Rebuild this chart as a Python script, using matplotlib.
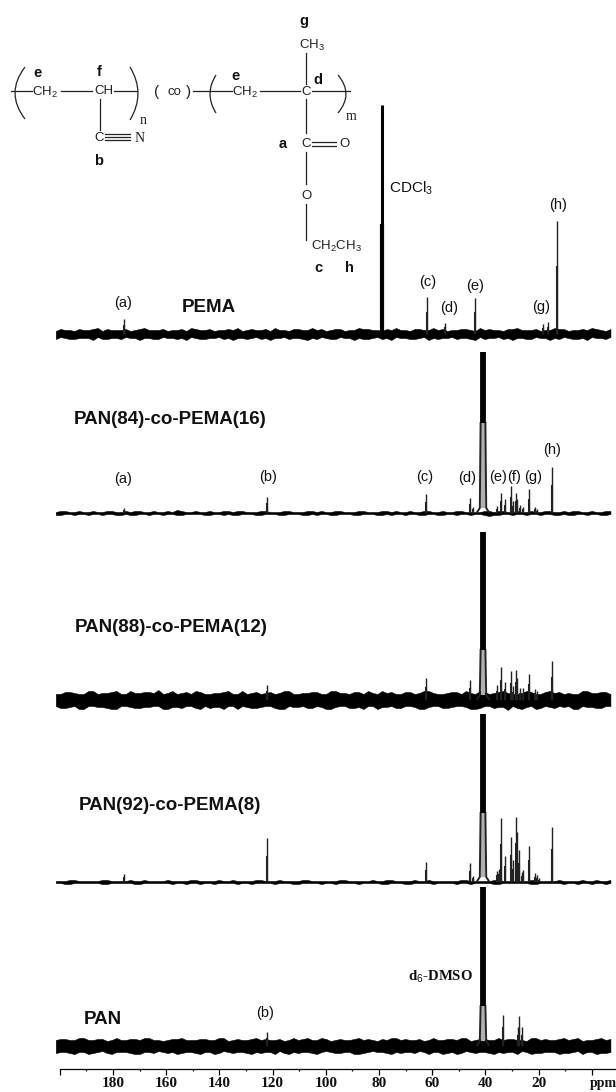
import numpy as np
import matplotlib
matplotlib.use('Agg')
import matplotlib.pyplot as plt
from matplotlib.patches import PathPatch
from matplotlib.path import Path

# peak positions (ppm) and heights
pema_ppm = [176.0, 62.0, 55.0, 44.0, 18.5, 16.5, 13.0]
pema_h = [15, 37, 11, 36, 10, 12, 113]
pan84_ppm = [176.0, 122.0, 62.3, 45.8, 44.8, 35.6, 34.1, 32.6, 30.4, 29.6, 28.5, 28.0, 27.0, 25.9, 23.6, 21.4, 20.6, 15.0]
pan84_h = [5, 16, 19, 15, 6, 7, 20, 14, 27, 12, 20, 14, 8, 6, 24, 6, 4, 46]
pan88_ppm = [122.0, 62.3, 45.8, 35.6, 34.1, 32.6, 30.4, 29.6, 28.5, 28.0, 27.0, 25.9, 23.6, 21.4, 20.6, 15.0]
pan88_h = [15, 22, 20, 15, 33, 18, 29, 14, 30, 22, 12, 12, 26, 11, 9, 39]
pan92_ppm = [176.0, 122.0, 62.3, 45.8, 44.8, 35.6, 35.0, 34.1, 32.6, 30.4, 29.6, 28.5, 28.0, 27.2, 26.4, 25.7, 23.6, 21.4, 20.7, 20.0, 15.0]
pan92_h = [8, 44, 20, 19, 6, 11, 13, 64, 26, 45, 22, 65, 50, 32, 10, 12, 36, 9, 7, 4, 55]
pan_ppm = [122.0, 33.2, 27.9, 27.2, 26.4]
pan_h = [14, 31, 19, 30, 19]

# solvent lines: ppm, top height, height where the solid part stops
solvent_ppm = [79.0, 40.9, 40.9, 40.9, 40.9]
solvent_top = [229, 161, 168, 168, 159]
solvent_base = [0, 90, 50, 69, 40]
cdcl3_heavy = 110

# baseline noise, height of the band edge above and below the baseline
pema_up = [3, 4, 3, 4, 5, 3, 4, 4, 3, 5, 4, 4, 3, 4, 3, 5, 4, 3, 4, 4, 3, 5, 4, 3, 4, 3, 5, 4, 4, 3, 5, 3, 4, 5, 4, 3, 4, 4, 3, 5, 4, 4, 3, 4, 5, 3, 4, 4, 3, 5, 4, 4, 3, 4, 5, 3, 4, 4, 5, 3]
pema_dn = [5, 4, 5, 4, 6, 5, 4, 5, 4, 6, 4, 5, 4, 5, 6, 4, 5, 4, 5, 6, 4, 4, 5, 6, 4, 5, 4, 6, 5, 4, 5, 4, 6, 5, 4, 5, 6, 4, 5, 4, 6, 5, 4, 5, 4, 6, 5, 4, 5, 6, 4, 5, 4, 6, 5, 4, 5, 6, 4, 5]
pan84_up = [1, 2, 1, 1, 2, 1, 2, 1, 1, 2, 1, 1, 2, 3, 1, 2, 1, 1, 2, 1, 2, 1, 2, 1, 1, 2, 1, 2, 1, 1, 2, 1, 1, 2, 1, 2, 1, 1, 2, 1, 2, 1, 1, 2, 1, 1, 2, 1, 2, 1, 1, 2, 1, 2, 1, 1, 2, 1, 1, 2]
pan84_dn = [2, 1, 2, 1, 1, 2, 1, 2, 2, 1, 2, 1, 1, 2, 1, 1, 2, 1, 2, 2, 1, 1, 2, 1, 2, 1, 1, 2, 2, 1, 2, 1, 2, 1, 1, 2, 2, 1, 1, 2, 1, 2, 1, 2, 1, 1, 2, 2, 1, 2, 1, 1, 2, 1, 2, 2, 1, 2, 1, 2]
pan88_up = [6, 8, 7, 6, 9, 7, 8, 6, 9, 7, 8, 10, 7, 6, 8, 9, 6, 7, 8, 6, 9, 7, 6, 8, 7, 9, 6, 7, 8, 6, 9, 7, 8, 6, 7, 9, 8, 6, 8, 7, 9, 6, 7, 8, 9, 6, 8, 7, 9, 6, 7, 8, 6, 9, 8, 7, 6, 9, 7, 8]
pan88_dn = [6, 8, 6, 9, 6, 7, 9, 6, 7, 8, 7, 6, 9, 7, 6, 8, 6, 7, 9, 6, 6, 8, 7, 6, 9, 6, 7, 8, 6, 9, 7, 6, 8, 9, 6, 7, 6, 8, 6, 9, 7, 6, 8, 6, 7, 9, 6, 8, 7, 6, 9, 6, 8, 7, 6, 6, 9, 7, 8, 6]
pan92_up = [1, 1, 2, 1, 1, 2, 1, 1, 2, 1, 1, 1, 2, 1, 1, 2, 1, 1, 1, 2, 1, 1, 2, 1, 2, 1, 1, 2, 1, 1, 1, 2, 1, 1, 2, 1, 2, 1, 1, 1, 2, 1, 1, 1, 2, 1, 1, 2, 1, 1, 1, 2, 1, 1, 2, 1, 1, 1, 2, 1]
pan92_dn = [1, 2, 1, 1, 1, 2, 1, 1, 1, 2, 1, 1, 1, 1, 2, 1, 1, 2, 1, 1, 1, 2, 1, 1, 1, 1, 2, 1, 1, 1, 2, 1, 1, 1, 1, 2, 1, 1, 2, 1, 1, 1, 1, 2, 1, 1, 1, 2, 1, 1, 1, 2, 1, 1, 1, 1, 2, 1, 1, 2]
pan_up = [6, 7, 6, 8, 6, 7, 6, 6, 7, 6, 8, 6, 6, 7, 6, 6, 7, 6, 8, 6, 6, 7, 6, 6, 7, 6, 6, 8, 6, 7, 6, 6, 7, 6, 6, 7, 8, 6, 6, 7, 6, 6, 7, 6, 8, 6, 7, 6, 6, 7, 6, 8, 6, 6, 7, 6, 8, 6, 7, 6]
pan_dn = [7, 6, 8, 6, 7, 5, 8, 6, 7, 8, 6, 5, 7, 8, 6, 7, 6, 8, 5, 7, 6, 8, 7, 6, 5, 8, 7, 6, 8, 5, 7, 6, 8, 7, 5, 6, 8, 7, 6, 5, 8, 6, 7, 8, 5, 7, 6, 8, 7, 6, 5, 8, 7, 6, 8, 7, 5, 6, 8, 7]

tick_ppm = [200, 180, 160, 140, 120, 100, 80, 60, 40, 20, 0]
tick_labels = ['', '180', '160', '140', '120', '100', '80', '60', '40', '20', '']

sans = 'Liberation Sans'
serif = 'Liberation Serif'
baselines = [334, 513, 700, 882, 1046]
noise_left, noise_right = 201.5, -7.0


def plot_spectrum(ax, y0, ppm, heights, up, dn, solvent, top, base, solvent_lw=4.2):
    '''
    Draws one stacked spectrum: noise band, peaks and the solvent line.
    y0 is the baseline in figure pixels, heights go upward from it.
    '''
    heights = np.array(heights, dtype=float)

    # the two lists are interleaved so each edge of the band gets a point every few pixels
    upper = np.array([v for pair in zip(up, dn) for v in pair], dtype=float)
    lower = np.array([v for pair in zip(dn, up[::-1]) for v in pair], dtype=float)
    x = np.linspace(noise_left, noise_right, len(upper))
    ax.fill_between(x, y0 - upper, y0 + lower, color='black', lw=0.4)

    # peaks are thin near the top and heavier toward the foot
    ax.vlines(ppm, y0, y0 - heights, color='#222222', lw=1.0)
    ax.vlines(ppm, y0, y0 - heights * 0.6, color='#222222', lw=1.5)

    # solvent: solid top part, then two legs spreading out to the baseline
    if base > 0:
        foot_x = [2.2, 1.2, 0.9]
        foot_y = [1, 5, base]
        ax.fill_betweenx([y0 - base, y0 - 5], solvent - 0.9, solvent + 0.9, color='#b0b0b0', lw=0)
        for side in (-1, 1):
            ax.plot([solvent + side * f for f in foot_x], [y0 - f for f in foot_y], color='#222222', lw=1.4)
    ax.vlines(solvent, y0 - base, y0 - top, color='black', lw=solvent_lw)


def bracket(ax, x0, x1, ytop, ybot):
    path = Path([(x0, ytop), (x1, (ytop + ybot) / 2), (x0, ybot)],
                [Path.MOVETO, Path.CURVE3, Path.CURVE3])
    ax.add_patch(PathPatch(path, fc='none', ec='#222222', lw=0.9))


def plot_structure(ax):
    # monomer drawing at the top of the figure, pixel coordinates
    segments = [
        ((11, 32), (91, 91)), ((61, 92), (91, 91)), ((114, 137), (91, 91)),
        ((99.5, 99.5), (99, 130)), ((105, 130), (134, 134)), ((105, 130), (137, 137)),
        ((105, 130), (140, 140)), ((193, 232), (91, 91)), ((260, 300), (91, 91)),
        ((312, 350), (91, 91)), ((306, 306), (53, 84)), ((306, 306), (99, 133)),
        ((306, 306), (152, 184)), ((306, 306), (204, 240)),
        ((312, 336), (142, 142)), ((312, 336), (146, 146)),
    ]
    for xs, ys in segments:
        ax.plot(xs, ys, color='#222222', lw=0.9)

    bracket(ax, 25, 5, 67, 119)
    bracket(ax, 130, 146, 67, 120)
    bracket(ax, 216, 204, 75, 113)
    bracket(ax, 338, 354, 75, 113)

    atoms = [
        (45, 92, 'CH$_2$'), (104, 91, 'CH'), (99, 138, 'C'), (245, 92, 'CH$_2$'),
        (306, 92, 'C'), (312, 45, 'CH$_3$'), (306, 144, 'C'), (344, 144, 'O'),
        (306, 196, 'O'), (336, 246, 'CH$_2$CH$_3$'), (174, 92, 'co'),
    ]
    for x, y, s in atoms:
        ax.text(x, y, s, family=sans, fontsize=9.5, ha='center', va='center', color='#222222',
                math_fontfamily='custom')
    for x, y, s, fs in [(157, 92, '(', 11), (189, 92, ')', 11)]:
        ax.text(x, y, s, family=sans, fontsize=fs, ha='center', va='center', color='#222222')
    for x, y, s in [(143, 120, 'n'), (140, 138, 'N'), (351, 116, 'm')]:
        ax.text(x, y, s, family=serif, fontsize=10, ha='center', va='center', color='#222222')
    for x, y, s in [(38, 73, 'e'), (99, 72, 'f'), (99, 161, 'b'), (236, 76, 'e'), (318, 80, 'd'),
                    (304, 21, 'g'), (283, 144, 'a'), (318, 268, 'c'), (349, 268, 'h')]:
        ax.text(x, y, s, family=sans, fontsize=10.5, weight='bold', ha='center', va='center',
                color='#111111')


def plot_labels(ax):
    peak_labels = [
        (123, 303, '(a)'), (428, 282, '(c)'), (449, 308, '(d)'), (475, 286, '(e)'),
        (541, 307, '(g)'), (558, 205, '(h)'),
        (123, 479, '(a)'), (268, 477, '(b)'), (425, 477, '(c)'), (467, 478, '(d)'),
        (498, 477, '(e)'), (514, 477, '(f)'), (533, 477, '(g)'), (552, 450, '(h)'),
        (265, 1013, '(b)'),
    ]
    for x, y, s in peak_labels:
        ax.text(x, y, s, family=sans, fontsize=10.5, ha='center', va='center', color='#111111')

    names = [(182, 308, 'PEMA'), (74, 420, 'PAN(84)-co-PEMA(16)'), (75, 627, 'PAN(88)-co-PEMA(12)'),
             (79, 805, 'PAN(92)-co-PEMA(8)'), (84, 1020, 'PAN')]
    for x, y, s in names:
        ax.text(x, y, s, family=sans, fontsize=13.5, weight='bold', ha='left', va='center', color='#111111')

    ax.text(389, 188, 'CDCl$_3$', family=sans, fontsize=11, ha='left', va='center', color='#111111',
            math_fontfamily='custom')
    ax.text(408, 977, 'd$_6$-DMSO', family=serif, fontsize=10.6, weight='bold', ha='left', va='center',
            color='#111111', math_fontfamily='custom')
    ax.text(590, 1084, 'ppm', family=serif, fontsize=10, weight='bold', ha='left', va='center',
            color='#111111')


if __name__ == '__main__':
    plt.rcParams['mathtext.fontset'] = 'custom'
    plt.rcParams['mathtext.rm'] = sans
    plt.rcParams['mathtext.default'] = 'rm'

    fig = plt.figure(figsize=(6.16, 10.92), dpi=100)
    ax = fig.add_axes([0, 0, 1, 1])
    # 2.66 px per ppm, 180 ppm sits at x = 113 px
    ax.set_xlim(180 + 113 / 2.66, 180 - 503 / 2.66)
    ax.set_ylim(1092, 0)
    ax.patch.set_alpha(0)

    plot_spectrum(ax, baselines[0], pema_ppm, pema_h, pema_up, pema_dn, solvent_ppm[0], solvent_top[0], solvent_base[0], solvent_lw=2.2)
    ax.vlines(solvent_ppm[0], baselines[0], baselines[0] - cdcl3_heavy, color='black', lw=3.0)
    plot_spectrum(ax, baselines[1], pan84_ppm, pan84_h, pan84_up, pan84_dn, solvent_ppm[1], solvent_top[1], solvent_base[1])
    plot_spectrum(ax, baselines[2], pan88_ppm, pan88_h, pan88_up, pan88_dn, solvent_ppm[2], solvent_top[2], solvent_base[2])
    plot_spectrum(ax, baselines[3], pan92_ppm, pan92_h, pan92_up, pan92_dn, solvent_ppm[3], solvent_top[3], solvent_base[3])
    plot_spectrum(ax, baselines[4], pan_ppm, pan_h, pan_up, pan_dn, solvent_ppm[4], solvent_top[4], solvent_base[4])

    for side in ('top', 'left', 'right'):
        ax.spines[side].set_visible(False)
    ax.spines['bottom'].set_position(('data', 1069))
    ax.spines['bottom'].set_bounds(200, 180 - 503 / 2.66)
    ax.spines['bottom'].set_linewidth(0.9)
    ax.set_yticks([])
    ax.set_xticks(tick_ppm)
    ax.set_xticklabels(tick_labels, family=serif, fontsize=11, weight='bold', color='#111111')
    ax.set_xticks(np.arange(190, 0, -20), minor=True)
    ax.tick_params(axis='x', which='major', length=4, width=0.9, pad=1.5)
    ax.tick_params(axis='x', which='minor', length=1.5, width=0.9)

    # overlay in figure pixels for the drawing and the labels
    over = fig.add_axes([0, 0, 1, 1])
    over.set_xlim(0, 616)
    over.set_ylim(1092, 0)
    over.axis('off')
    plot_structure(over)
    plot_labels(over)

    fig.savefig('out.png', dpi=100)
